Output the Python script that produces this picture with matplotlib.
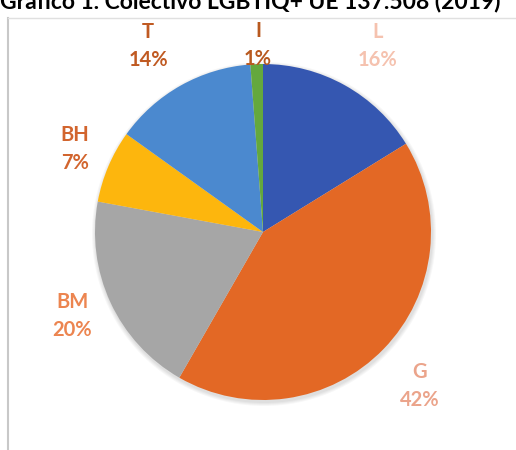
import matplotlib
matplotlib.use("Agg")
import matplotlib.pyplot as plt
from matplotlib.patches import Circle

# ---- data ----
categories = ["L", "G", "BM", "BH", "T", "I"]
values = [16.2, 42.1, 19.6, 7.0, 13.9, 1.2]
title = "Gráfico 1. Colectivo LGBTIQ+ UE 137.508 (2019)"

# ---- style / layout ----
slice_colors = ["#3557B1", "#E36825", "#A6A6A6", "#FDB60D", "#4B89CF", "#64A83D"]
label_colors = ["#F5C2AF", "#EBA48B", "#EC8550", "#D2652E", "#C05A22", "#B8591F"]
# label anchor positions in pixel-like axes coords (x, y from bottom)
label_pos = [(378, 404), (420, 64), (72, 134), (75, 301), (148, 404), (258, 405)]

plt.rcParams['font.family'] = ['Lato', 'DejaVu Sans']
fig = plt.figure(figsize=(5.16, 4.5), dpi=100)
ax = fig.add_axes([0, 0, 1, 1])

cx, cy, r = 263, 218, 168

# soft shadow
for i in range(4):
    ax.add_patch(Circle((cx + 1, cy - 2), r + 4 - i, color='black', alpha=0.03, lw=0, zorder=0))

wedges, _ = ax.pie(values, colors=slice_colors, startangle=90, counterclock=False,
                   center=(cx, cy), radius=r, frame=True,
                   wedgeprops=dict(linewidth=0))
ax.set_xlim(0, 516)
ax.set_ylim(0, 450)
ax.set_aspect('equal')
ax.axis('off')

total = sum(values)
for cat, v, col, (lx, ly) in zip(categories, values, label_colors, label_pos):
    ax.text(lx, ly, f"{cat}\n{v / total * 100:.0f}%", color=col, fontsize=14.5,
            fontweight='bold', ha='center', va='center', linespacing=1.45)

# frame lines (cropped screenshot border)
ax.plot([8, 8], [0, 432], color='#C8C8C8', lw=1.5)
ax.plot([8, 516], [432, 432], color='#E0E0E0', lw=1)

ax.text(250, 442, title, fontsize=16.5, fontweight='bold', color='black',
        ha='center', va='baseline')

fig.savefig("out.png", dpi=100)
